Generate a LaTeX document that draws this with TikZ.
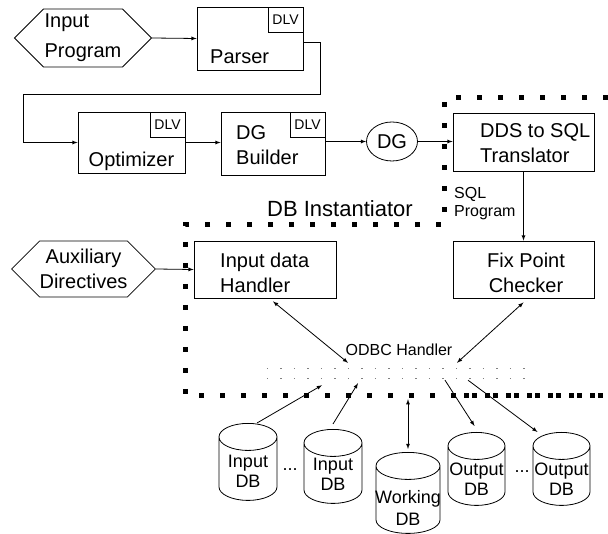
\documentclass[tikz,border=0pt]{standalone}
\usepackage{fontspec}
\setmainfont{Liberation Sans}
\usetikzlibrary{shapes.geometric,shapes.symbols}

\begin{document}
\begin{tikzpicture}[x=1pt,y=-1pt,
    caja/.style={draw, line width=0.8pt, inner sep=0pt},
    dlv/.style={draw, line width=0.8pt, anchor=north east, minimum width=35pt, minimum height=25pt, inner sep=0pt, font=\fontsize{14}{14}\selectfont},
    texto/.style={inner sep=0pt, font=\fontsize{20}{25}\selectfont},
    hexa/.style={draw, line width=0.8pt, signal, signal to=east and west, signal pointer angle=90, inner sep=0pt, font=\fontsize{20}{25}\selectfont},
    bd/.style={draw, line width=0.8pt, cylinder, shape border rotate=90, aspect=0.5, inner sep=0pt, anchor=north, font=\fontsize{18}{20}\selectfont},
    bdtxt/.style={inner sep=0pt, align=center, font=\fontsize{18}{20}\selectfont},
    flecha/.style={-latex, line width=0.8pt},
    dobleflecha/.style={latex-latex, line width=0.8pt},
    frontera/.style={line width=5pt, dash pattern=on 5pt off 16pt},
    puntos/.style={line width=1.2pt, gray, dash pattern=on 1.2pt off 12.3pt}]

    \useasboundingbox (0,0) rectangle (608,534);

    % Frontera del instanciador
    \draw[frontera] (608,98) -- (444,98) -- (444,225) -- (185,225) -- (185,396) -- (608,396);
    \draw[frontera, dash phase=12pt] (455,396) -- (608,396);

    % Entrada y parser
    \node[hexa, minimum width=137pt, minimum height=58pt, align=left, font=\fontsize{20}{30}\selectfont] (inprog) at (83,38) {Input\\Program};
    \node[caja, minimum width=106pt, minimum height=63pt] (parser) at (250,38.5) {};
    \node[dlv] (parserdlv) at (parser.north east) {DLV};
    \node[texto, anchor=north west] (parsertxt) at (210,50) {Parser};

    % Optimizador y DG
    \node[caja, minimum width=107pt, minimum height=61pt] (optimizer) at (131.5,142.5) {};
    \node[dlv] (optimizerdlv) at (optimizer.north east) {DLV};
    \node[texto, anchor=base] (optimizertxt) at (131.5,167) {Optimizer};
    \node[caja, minimum width=104pt, minimum height=63pt] (dgbuilder) at (273,143.5) {};
    \node[dlv] (dgbuilderdlv) at (dgbuilder.north east) {DLV};
    \node[texto, anchor=north west, align=left] (dgbuildertxt) at (236,125) {DG\\Builder};
    \node[draw, ellipse, line width=0.8pt, minimum width=51pt, minimum height=39pt, inner sep=0pt, font=\fontsize{20}{25}\selectfont] (dg) at (392,141.5) {DG};

    % Traductor
    \node[caja, minimum width=141pt, minimum height=58pt] (translator) at (523.5,142) {};
    \node[texto, anchor=north west, align=left] (translatortxt) at (480,123) {DDS to SQL\\Translator};
    \node[inner sep=0pt, anchor=north west, align=left, font=\fontsize{16}{18.5}\selectfont] (sqlprog) at (454,187) {SQL\\Program};
    \node[inner sep=0pt, anchor=base west, font=\fontsize{22}{22}\selectfont] (dbinst) at (267,217) {DB Instantiator};

    % Manejadores
    \node[hexa, minimum width=143pt, minimum height=56pt, align=center] (auxdir) at (83.5,269) {Auxiliary\\Directives};
    \node[caja, minimum width=142pt, minimum height=57pt] (inhandler) at (265,269.5) {};
    \node[texto, anchor=north west, align=left] (inhandlertxt) at (220,253) {Input data\\Handler};
    \node[caja, minimum width=141pt, minimum height=57pt] (fixpoint) at (523.5,269.5) {};
    \node[texto, anchor=north, align=center] (fixpointtxt) at (526,253) {Fix Point\\Checker};

    % ODBC
    \node[inner sep=0pt, minimum width=260pt, minimum height=9pt] (odbc) at (397,373.5) {};
    \draw[puntos] (odbc.north west) -- (odbc.north east);
    \draw[puntos] (odbc.south west) -- (odbc.south east);
    \node[inner sep=0pt, anchor=base, font=\fontsize{16}{16}\selectfont] (odbctxt) at (399,356) {ODBC Handler};

    % Bases de datos
    \node[bd, minimum width=58pt, minimum height=77pt] (indb1) at (248,423) {\hphantom{Output}};
    \node[bd, minimum width=58pt, minimum height=74pt] (indb2) at (333,429) {\hphantom{Output}};
    \node[bd, minimum width=64pt, minimum height=81pt] (workdb) at (408,452) {\hphantom{Output}};
    \node[bd, minimum width=57pt, minimum height=73pt] (outdb1) at (476.5,432) {\hphantom{Output}};
    \node[bd, minimum width=57pt, minimum height=73pt] (outdb2) at (561.5,432) {\hphantom{Output}};
    \node[bdtxt] (indb1txt) at ([yshift=-48.5pt]indb1.north) {Input\\DB};
    \node[bdtxt] (indb2txt) at ([yshift=-45pt]indb2.north) {Input\\DB};
    \node[bdtxt, font=\fontsize{18}{22}\selectfont] (workdbtxt) at ([yshift=-55.5pt]workdb.north) {Working\\DB};
    \node[bdtxt] (outdb1txt) at ([yshift=-47pt]outdb1.north) {Output\\DB};
    \node[bdtxt] (outdb2txt) at ([yshift=-47pt]outdb2.north) {Output\\DB};
    \node[inner sep=0pt, font=\fontsize{18}{18}\selectfont] (dots1) at (290,470) {...};
    \node[inner sep=0pt, font=\fontsize{18}{18}\selectfont] (dots2) at (522,472) {...};

    % Conexiones
    \draw[flecha] (inprog.east) -- (parser.west);
    \draw[flecha] ([yshift=-3.5pt]parser.east) -- ++(17,0) |- (23,94) |- (optimizer.west);
    \draw[flecha] (optimizer.east) -- (dgbuilder.west |- optimizer.east);
    \draw[flecha] (dgbuilder.east |- dg.west) -- (dg.west);
    \draw[flecha] (dg.east) -- (translator.west |- dg.east);
    \draw[flecha] (translator.south) -- (fixpoint.north);
    \draw[flecha] (auxdir.east) -- (inhandler.west);
    \draw[dobleflecha] ([xshift=8pt,yshift=-3pt]inhandler.south) -- ([xshift=-49pt,yshift=6pt]odbc.north);
    \draw[dobleflecha] ([yshift=-4pt]fixpoint.south) -- ([xshift=60pt,yshift=6pt]odbc.north);
    \draw[flecha] ([xshift=9pt]indb1.north) -- ([xshift=-75pt,yshift=-7pt]odbc.south);
    \draw[flecha] ([yshift=5pt]indb2.north) -- ([xshift=-39pt,yshift=-5pt]odbc.south);
    \draw[dobleflecha] ([yshift=3pt]workdb.north) -- ([xshift=11pt,yshift=-21pt]odbc.south);
    \draw[flecha] ([xshift=48pt,yshift=-2pt]odbc.south) -- ([xshift=-2pt,yshift=6pt]outdb1.north);
    \draw[flecha] ([xshift=71pt,yshift=-2pt]odbc.south) -- ([xshift=-24pt]outdb2.north);
\end{tikzpicture}
\end{document}
